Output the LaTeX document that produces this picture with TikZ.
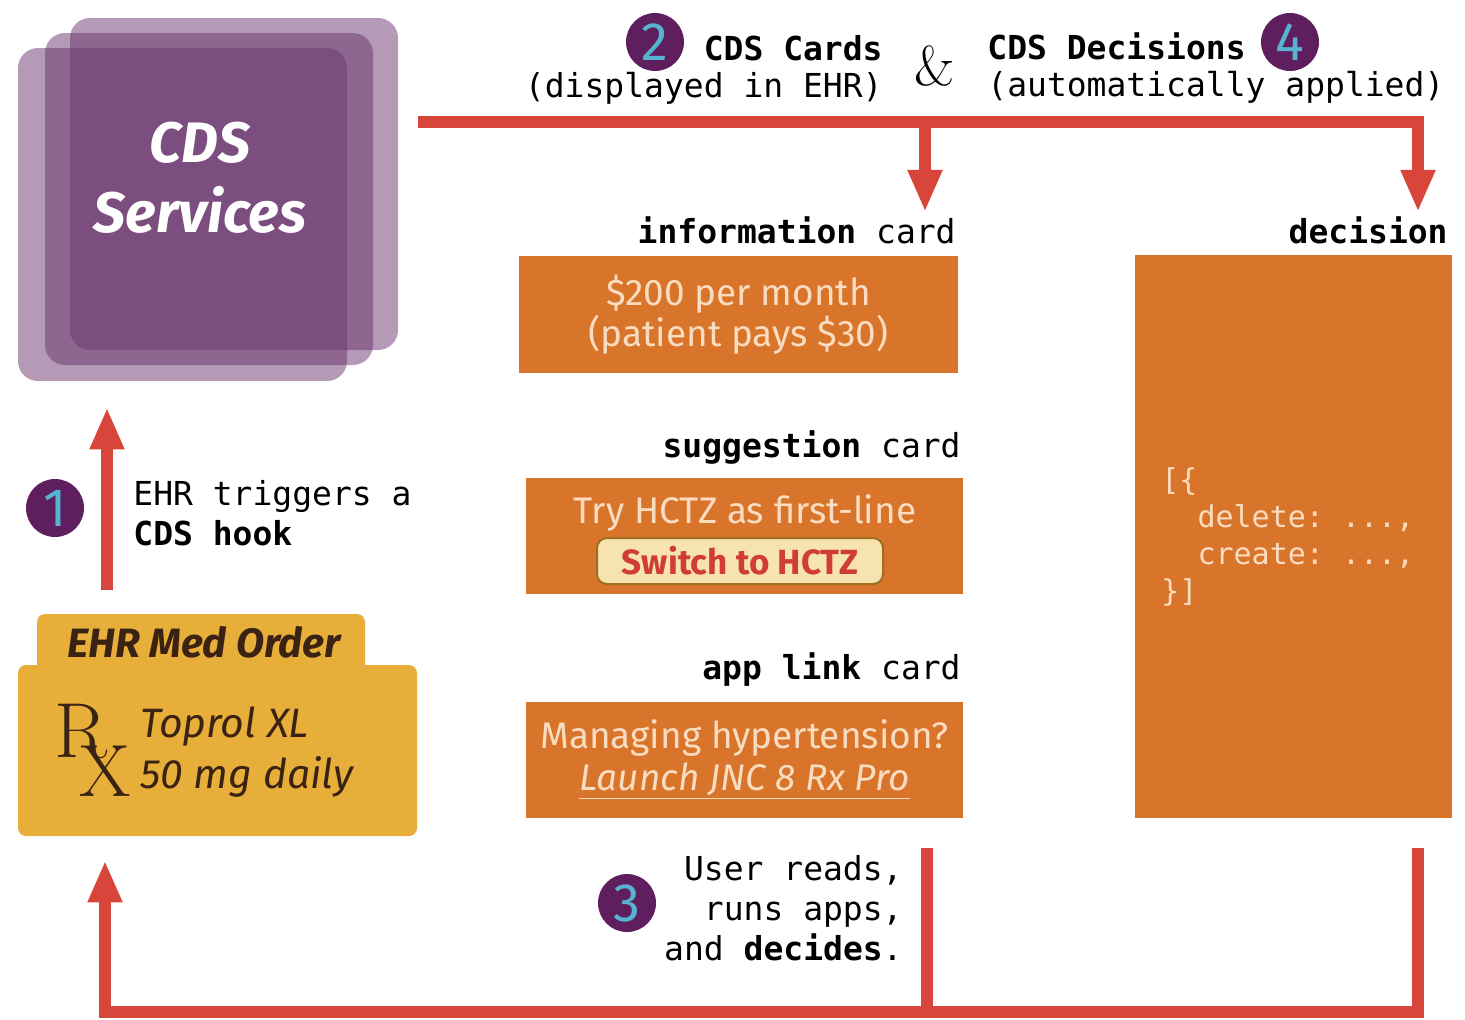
\documentclass[tikz,border=0pt]{standalone}
\usepackage{fontspec}
\setsansfont{Fira Sans}
\setmonofont{DejaVu Sans Mono}
\usetikzlibrary{arrows.meta}

\definecolor{cdsred}{HTML}{D8453A}
\definecolor{cdspurple}{HTML}{69356D}
\definecolor{cardorange}{HTML}{D9742B}
\definecolor{cardtext}{HTML}{FADCC0}
\definecolor{ordergold}{HTML}{E8AE3A}
\definecolor{orderink}{HTML}{3A2313}
\definecolor{badgepurple}{HTML}{5F1F5F}
\definecolor{badgeblue}{HTML}{55B4D0}
\definecolor{btnfill}{HTML}{F7E3B0}
\definecolor{btnline}{HTML}{9C6E1E}
\definecolor{btntext}{HTML}{D03C36}

\begin{document}
\begin{tikzpicture}[x=0.5pt,y=-0.5pt,
	flow/.style={line width=6pt,draw=cdsred},
	arrow/.style={flow,-{Triangle[width=16pt,length=21pt]}},
	card/.style={fill=cardorange,text=cardtext,inner sep=0pt,
		font=\sffamily\fontsize{18.5}{18}\selectfont,align=center},
	lbl/.style={anchor=east,inner sep=2pt,font=\ttfamily\fontsize{16.5}{20}\selectfont},
	badge/.style={circle,fill=badgepurple,text=badgeblue,minimum size=29pt,inner sep=0pt,
		font=\sffamily\fontsize{27}{27}\selectfont},
	gold/.style={fill=ordergold,rounded corners=4pt,inner sep=0pt,text=orderink}]
	\useasboundingbox (0,0) rectangle (1465,1019);
	
	% CDS services stack
	\fill[cdspurple,opacity=.5,rounded corners=10pt] (70,18) rectangle (398,350);
	\fill[cdspurple,opacity=.5,rounded corners=10pt] (45,33) rectangle (373,365);
	\node[fill=cdspurple,fill opacity=.5,rounded corners=10pt,minimum width=164.5pt,
		minimum height=166.5pt] (cds) at (182.5,214.5) {};
	\node[text=white,align=center,font=\sffamily\bfseries\itshape\fontsize{28.5}{35}\selectfont]
		(cdstext) at (200,178) {CDS\\Services};
	
	% EHR med order
	\node[gold,minimum width=164pt,minimum height=30pt] (tab) at (201,644) {};
	\node[gold,minimum width=199.5pt,minimum height=85.5pt] (order) at (217.5,750.5) {};
	\node[text=orderink,font=\sffamily\bfseries\itshape\fontsize{20.5}{20}\selectfont]
		(tabtext) at (204,642) {EHR Med Order};
	\node[text=orderink,inner sep=0pt,font=\fontsize{39}{39}\selectfont] (rx) at (93,750)
		{R\kern-.36em\raisebox{-.5em}{\fontsize{37}{37}\selectfont X}};
	\node[text=orderink,anchor=west,align=left,inner sep=0pt,
		font=\sffamily\itshape\fontsize{20.5}{25.5}\selectfont]
		(drug) at (140,752) {Toprol XL\\50 mg daily};
	
	% step 1
	\node[badge] (b1) at (55,508) {1};
	\node[lbl,anchor=west,align=left] (trig) at (129,513) {EHR triggers a\\\textbf{CDS hook}};
	
	% header
	\node[badge] (b2) at (655,42) {2};
	\node[badge] (b4) at (1290,42) {4};
	\node[lbl] (cardshead) at (887,48) {\textbf{CDS Cards}};
	\node[lbl] (cardssub) at (887,88) {(displayed in EHR)};
	\node[font=\fontsize{28}{28}\selectfont] (amp) at (935,66) {\&};
	\node[lbl,anchor=west] (dechead) at (983,46) {\textbf{CDS Decisions}};
	\node[lbl,anchor=west] (decsub) at (983,87) {(automatically applied)};
	
	% cards
	\node[lbl] (infolbl) at (960,230) {\textbf{information} card};
	\node[card,minimum width=219.5pt,minimum height=58.5pt] (info) at (738.5,314.5)
		{\$200 per month\\(patient pays \$30)};
	\node[lbl] (sugglbl) at (965,447) {\textbf{suggestion} card};
	\node[card,minimum width=218.5pt,minimum height=58pt] (sugg) at (744.5,536) {};
	\node[card,fill=none] (suggtext) at (745,513) {Try HCTZ as first-line};
	\node[fill=btnfill,draw=btnline,line width=1pt,rounded corners=5pt,text=btntext,
		minimum width=143pt,minimum height=23pt,inner sep=0pt,
		font=\sffamily\bfseries\fontsize{17.5}{17}\selectfont] (switch) at (740,561) {Switch to HCTZ};
	\node[lbl] (applbl) at (965,670) {\textbf{app link} card};
	\node[card,minimum width=218.5pt,minimum height=58pt] (applink) at (744.5,760)
		{Managing hypertension?\\[3pt]\itshape\underline{Launch JNC 8 Rx Pro}};
	
	% decision
	\node[lbl] (declbl) at (1452,230) {\textbf{decision}};
	\node[fill=cardorange,minimum width=158.5pt,minimum height=281.5pt,inner sep=0pt]
		(decision) at (1293.5,536.5) {};
	\node[anchor=west,align=left,inner sep=0pt,text=cardtext,
		font=\ttfamily\fontsize{15}{18.5}\selectfont]
		(code) at (1161,537) {[\{\\\ \ delete: ...,\\\ \ create: ...,\\\}]};
	
	% step 3
	\node[badge] (b3) at (627,903) {3};
	\node[lbl,align=right] (user) at (907,908) {User reads,\\runs apps,\\and \textbf{decides}.};
	
	% connectors
	\coordinate (outl) at (418,122);
	\coordinate (drop1) at (925,122);
	\coordinate (drop2) at (1418,122);
	\coordinate (upx) at (107,0);
	\coordinate (ret1) at (927,848);
	\coordinate (ret2) at (1418,848);
	\coordinate (base) at (105,1012);
	\draw[arrow] (outl) -- (drop2) -- (drop2 |- declbl.north);
	\draw[arrow] (drop1) -- (drop1 |- infolbl.north);
	\draw[arrow] ([yshift=12pt]tab.north -| upx) -- ([yshift=-13pt]cds.south -| upx);
	\draw[arrow] (ret2) -- (ret2 |- base) -- (base) -- ([yshift=-12pt]order.south -| base);
	\draw[flow] (ret1) -- (ret1 |- base);
\end{tikzpicture}
\end{document}
